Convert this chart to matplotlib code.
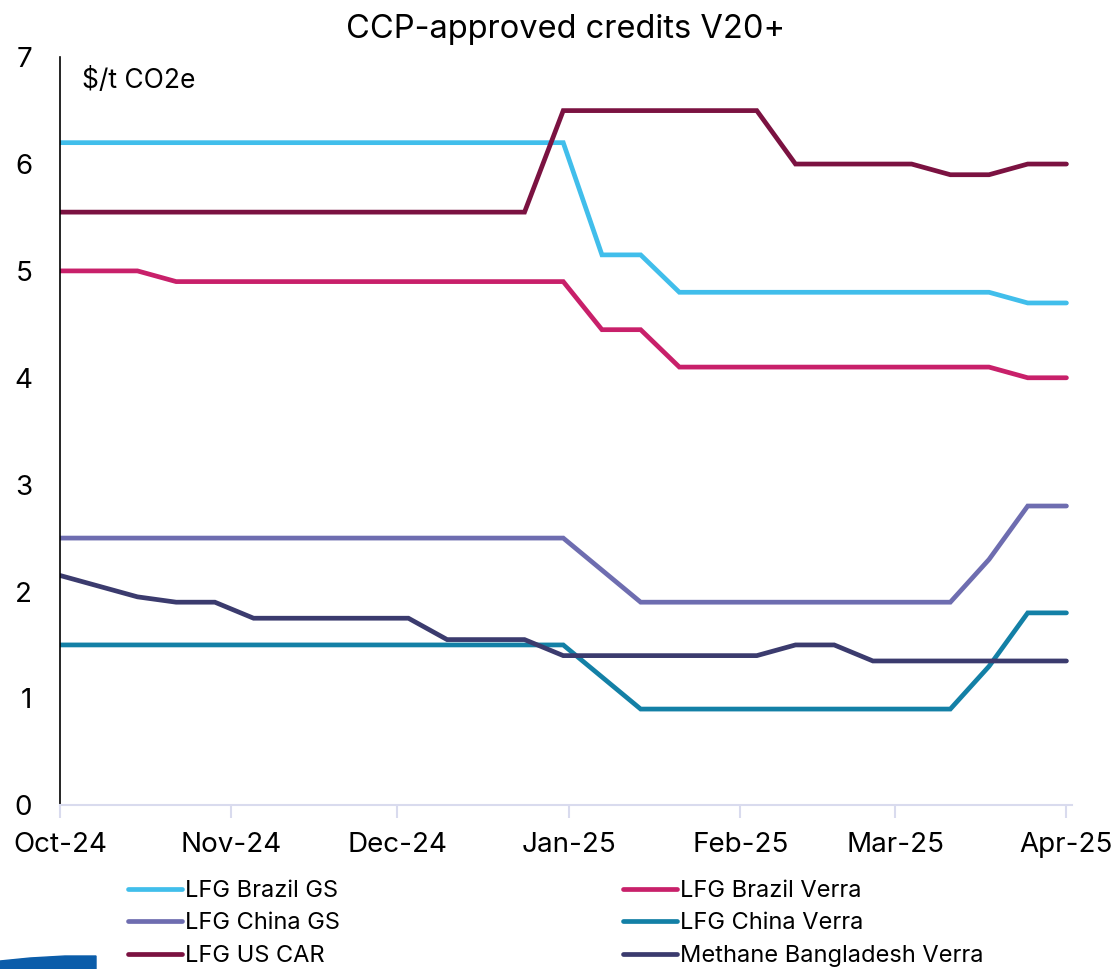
import pandas as pd
import matplotlib
matplotlib.use("Agg")
import matplotlib.pyplot as plt
import matplotlib.dates as mdates
from matplotlib.patches import Polygon

plt.rcParams['font.family'] = ['Inter', 'DejaVu Sans']

# weekly price assessments, $/t CO2e
dates = pd.date_range("2024-10-01", periods=27, freq="7D")

brazil_gs = [6.2] * 14 + [5.15, 5.15] + [4.8] * 9 + [4.7, 4.7]
brazil_verra = [5.0, 5.0, 5.0] + [4.9] * 11 + [4.45, 4.45] + [4.1] * 9 + [4.0, 4.0]
china_gs = [2.5] * 14 + [2.2] + [1.9] * 9 + [2.3, 2.8, 2.8]
china_verra = [1.5] * 14 + [1.2] + [0.9] * 9 + [1.3, 1.8, 1.8]
us_car = [5.55] * 13 + [6.5] * 6 + [6.0] * 4 + [5.9, 5.9, 6.0, 6.0]
methane_bd = [2.15, 2.05, 1.95, 1.9, 1.9] + [1.75] * 5 + [1.55] * 3 + [1.4] * 6 \
    + [1.5, 1.5] + [1.35] * 6

series = [
    ("LFG Brazil GS", brazil_gs, "#41BEEB"),
    ("LFG China GS", china_gs, "#6E6DB0"),
    ("LFG US CAR", us_car, "#7B1241"),
    ("LFG Brazil Verra", brazil_verra, "#C8206A"),
    ("LFG China Verra", china_verra, "#1380A6"),
    ("Methane Bangladesh Verra", methane_bd, "#3B3B6E"),
]

fig = plt.figure(figsize=(11.12, 9.69), dpi=100)
ax = fig.add_axes([0.054, 0.169, 0.910, 0.772])

for name, vals, col in series:
    ax.plot(dates, vals, color=col, lw=3.4, label=name,
            solid_capstyle='round', solid_joinstyle='miter')

ax.set_ylim(0, 7)
ax.set_xlim(pd.Timestamp("2024-10-01"), pd.Timestamp("2025-04-02"))
ax.set_yticks(range(0, 8))
ax.xaxis.set_major_locator(mdates.MonthLocator())
ax.xaxis.set_major_formatter(mdates.DateFormatter("%b-%y"))

ax.tick_params(axis='y', length=0, labelsize=20, pad=20)
ax.tick_params(axis='x', length=9, width=1.5, color="#D9DBEE", labelsize=20, pad=10)

for s in ['top', 'right']:
    ax.spines[s].set_visible(False)
ax.spines['left'].set_color('black')
ax.spines['left'].set_linewidth(1.2)
ax.spines['bottom'].set_color('#D9DBEE')
ax.spines['bottom'].set_linewidth(1.5)

ax.set_title("CCP-approved credits V20+", fontsize=23.5, pad=14)
ax.text(0.022, 0.985, "$/t CO2e", transform=ax.transAxes, fontsize=19,
        va='top', ha='left')

leg = ax.legend(loc='upper left', bbox_to_anchor=(0.058, -0.087), ncol=2,
                frameon=False, fontsize=17, handlelength=2.3, handletextpad=0.1,
                columnspacing=12.0, labelspacing=0.45, borderaxespad=0)

# partial logo at lower-left corner (figure pixels, origin bottom-left)
logo = Polygon([(0, 0), (0, 8), (30, 11), (65, 13), (96, 13), (96, 0)],
               closed=True, transform=None, color="#0B5DAA", zorder=0)
fig.patches.append(logo)

fig.savefig("out.png", dpi=100)
